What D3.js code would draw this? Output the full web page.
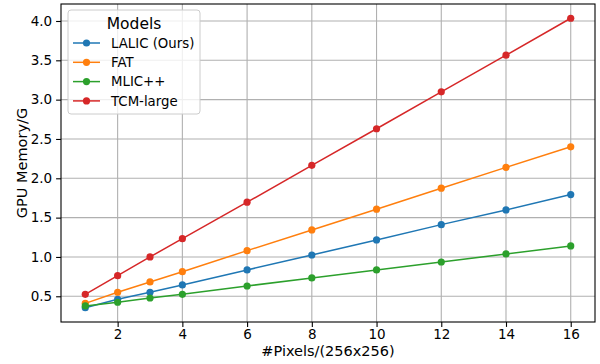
<!DOCTYPE html>
<html lang="en">
<head>
<meta charset="UTF-8">
<title>GPU Memory vs Pixels</title>
<script src="https://cdnjs.cloudflare.com/ajax/libs/d3/7.8.5/d3.min.js"></script>
<style>
  body { margin: 0; background: #fff; }
  svg { display: block; font-family: "DejaVu Sans", sans-serif; }
</style>
</head>
<body>
<div id="chart"></div>
<script>
  // data
  const pixels = [1, 2, 3, 4, 6, 8, 10, 12, 14, 16];
  const lalic = [0.355, 0.462, 0.551, 0.644, 0.835, 1.025, 1.216, 1.411, 1.598, 1.793];
  const fat = [0.41, 0.551, 0.682, 0.813, 1.08, 1.343, 1.607, 1.874, 2.139, 2.40];
  const mlic = [0.377, 0.424, 0.478, 0.525, 0.631, 0.733, 0.835, 0.936, 1.038, 1.14];
  const tcm = [0.525, 0.762, 1.0, 1.233, 1.696, 2.165, 2.63, 3.10, 3.565, 4.035];
  const xTicks = [2, 4, 6, 8, 10, 12, 14, 16];
  const yTicks = [0.5, 1.0, 1.5, 2.0, 2.5, 3.0, 3.5, 4.0];

  const series = [
    { name: "LALIC (Ours)", values: lalic, color: "#1f77b4" },
    { name: "FAT", values: fat, color: "#ff7f0e" },
    { name: "MLIC++", values: mlic, color: "#2ca02c" },
    { name: "TCM-large", values: tcm, color: "#d62728" }
  ];

  const W = 600, H = 364;
  const margin = { top: 4, right: 5, bottom: 42, left: 61 };
  const width = W - margin.left - margin.right;
  const height = H - margin.top - margin.bottom;

  const svg = d3.select("#chart").append("svg")
    .attr("width", W)
    .attr("height", H);

  const g = svg.append("g")
    .attr("transform", `translate(${margin.left},${margin.top})`);

  const x = d3.scaleLinear().domain([0.25, 16.75]).range([0, width]);
  const y = d3.scaleLinear().domain([0.173, 4.216]).range([height, 0]);

  // grid
  g.append("g").selectAll("line")
    .data(xTicks)
    .join("line")
    .attr("x1", d => x(d)).attr("x2", d => x(d))
    .attr("y1", 0).attr("y2", height)
    .attr("stroke", "#b0b0b0").attr("stroke-width", 1.1);

  g.append("g").selectAll("line")
    .data(yTicks)
    .join("line")
    .attr("x1", 0).attr("x2", width)
    .attr("y1", d => y(d)).attr("y2", d => y(d))
    .attr("stroke", "#b0b0b0").attr("stroke-width", 1.1);

  // axes
  const xAxis = g.append("g")
    .attr("transform", `translate(0,${height})`)
    .call(d3.axisBottom(x).tickValues(xTicks).tickSize(4.9).tickPadding(3).tickFormat(d3.format("d")));
  const yAxis = g.append("g")
    .call(d3.axisLeft(y).tickValues(yTicks).tickSize(4.9).tickPadding(4).tickFormat(d3.format(".1f")));

  [xAxis, yAxis].forEach(a => {
    a.select(".domain").remove();
    a.selectAll("line").attr("stroke", "#000").attr("stroke-width", 1.1);
    a.selectAll("text").attr("font-size", 13.5).attr("fill", "#000")
      .attr("font-family", "DejaVu Sans, sans-serif");
  });

  // frame
  g.append("rect")
    .attr("width", width).attr("height", height)
    .attr("fill", "none").attr("stroke", "#000").attr("stroke-width", 1.1);

  // lines and markers
  const line = d3.line()
    .x((d, i) => x(pixels[i]))
    .y(d => y(d));

  series.forEach(s => {
    g.append("path")
      .datum(s.values)
      .attr("fill", "none")
      .attr("stroke", s.color)
      .attr("stroke-width", 1.5)
      .attr("d", line);
    g.append("g").selectAll("circle")
      .data(s.values)
      .join("circle")
      .attr("cx", (d, i) => x(pixels[i]))
      .attr("cy", d => y(d))
      .attr("r", 3.6)
      .attr("fill", s.color);
  });

  // axis labels
  svg.append("text")
    .attr("x", margin.left + width / 2)
    .attr("y", 356)
    .attr("text-anchor", "middle")
    .attr("font-size", 14.5)
    .text("#Pixels/(256x256)");

  svg.append("text")
    .attr("transform", `translate(27,${margin.top + height / 2}) rotate(-90)`)
    .attr("text-anchor", "middle")
    .attr("font-size", 14.5)
    .text("GPU Memory/G");

  // legend
  const legend = svg.append("g").attr("transform", "translate(68,10)");
  legend.append("rect")
    .attr("width", 132).attr("height", 104)
    .attr("rx", 3)
    .attr("fill", "#fff").attr("fill-opacity", 0.8)
    .attr("stroke", "#cccccc").attr("stroke-width", 1);
  legend.append("text")
    .attr("x", 66).attr("y", 19)
    .attr("text-anchor", "middle")
    .attr("font-size", 15.5)
    .text("Models");

  const item = legend.selectAll(".item")
    .data(series)
    .join("g")
    .attr("class", "item")
    .attr("transform", (d, i) => `translate(0,${33 + i * 19.3})`);
  item.append("line")
    .attr("x1", 5).attr("x2", 32)
    .attr("stroke", d => d.color).attr("stroke-width", 1.5);
  item.append("circle")
    .attr("cx", 18.5).attr("r", 3.6)
    .attr("fill", d => d.color);
  item.append("text")
    .attr("x", 43).attr("y", 0)
    .attr("dy", "0.35em")
    .attr("font-size", 13.3)
    .text(d => d.name);
</script>
</body>
</html>
